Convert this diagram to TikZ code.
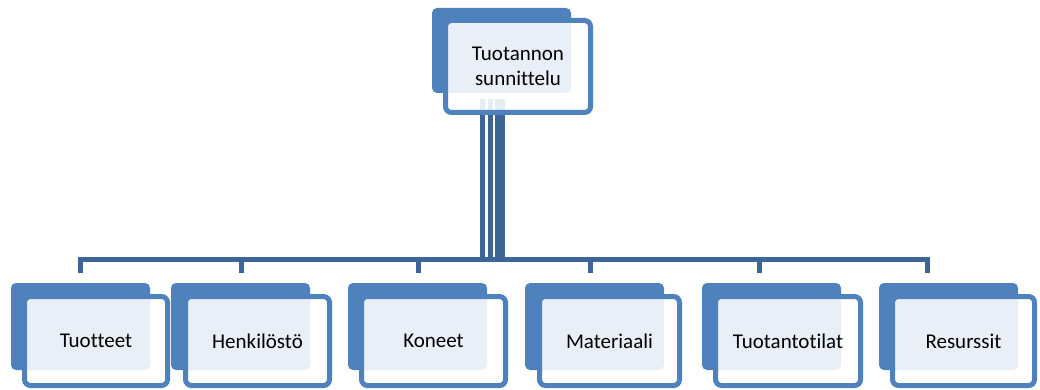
\documentclass[tikz,border=0pt]{standalone}
\usepackage{fontspec}
\setmainfont[Ligatures=NoCommon,RawFeature={-liga;-clig;-calt}]{Carlito}
\usetikzlibrary{calc}
\definecolor{accent}{HTML}{4F81BD}
\definecolor{linkc}{HTML}{3D6596}
\begin{document}
\begin{tikzpicture}[x=1pt,y=-1pt,
  backbox/.style={fill=accent, rounded corners=5pt, minimum width=139pt,
    minimum height=87pt, inner sep=0pt, outer sep=0pt, anchor=north west},
  frontbox/.style={draw=accent, line width=5pt, fill=white, fill opacity=0.88,
    text opacity=1, rounded corners=6pt, inner sep=0pt, outer sep=0pt,
    anchor=north west, align=center, minimum height=89pt,
    font=\fontsize{21}{25}\selectfont},
  link/.style={draw=linkc, line width=5pt}]
\useasboundingbox (0,0) rectangle (1040,390);

% root: shadow card
\node[backbox, minimum height=85pt] (rootback) at (432,8) {};

% child shadow cards
\foreach \i/\bx in {1/11, 2/171, 3/348, 4/525, 5/702, 6/879}
  \node[backbox] (back\i) at (\bx,283) {};

% drop points above the children and the shared bus level
\foreach \i/\dx in {1/80, 2/241, 3/418, 4/590, 5/759, 6/927}
  \coordinate (drop\i) at (\dx,273);
\coordinate (bus) at (0,259.5);

% elbow connectors from the root to each child
\foreach \i/\sx in {1/482, 2/490, 3/497.5, 4/502.5, 5/502.5, 6/502.5}{
  \coordinate (start\i) at ($(rootback.south west)+(\sx-432,6)$);
  \draw[link] (start\i) -- (start\i |- bus) -- (drop\i |- bus) -- (drop\i);
}

% root card
\node[frontbox, minimum width=145pt, minimum height=92pt] (root) at (445.5,20.5)
  {Tuotannon\\sunnittelu};

% child cards
\node[frontbox, minimum width=143pt] (c1) at (24.5,296.5) {Tuotteet};
\node[frontbox, minimum width=144pt] (c2) at (185.5,296.5) {Henkilöstö};
\node[frontbox, minimum width=144pt] (c3) at (361.5,296.5) {Koneet};
\node[frontbox, minimum width=140pt] (c4) at (539.5,296.5) {Materiaali};
\node[frontbox, minimum width=145pt] (c5) at (715.5,296.5) {Tuotantotilat};
\node[frontbox, minimum width=142pt] (c6) at (892.5,296.5) {Resurssit};
\end{tikzpicture}
\end{document}
